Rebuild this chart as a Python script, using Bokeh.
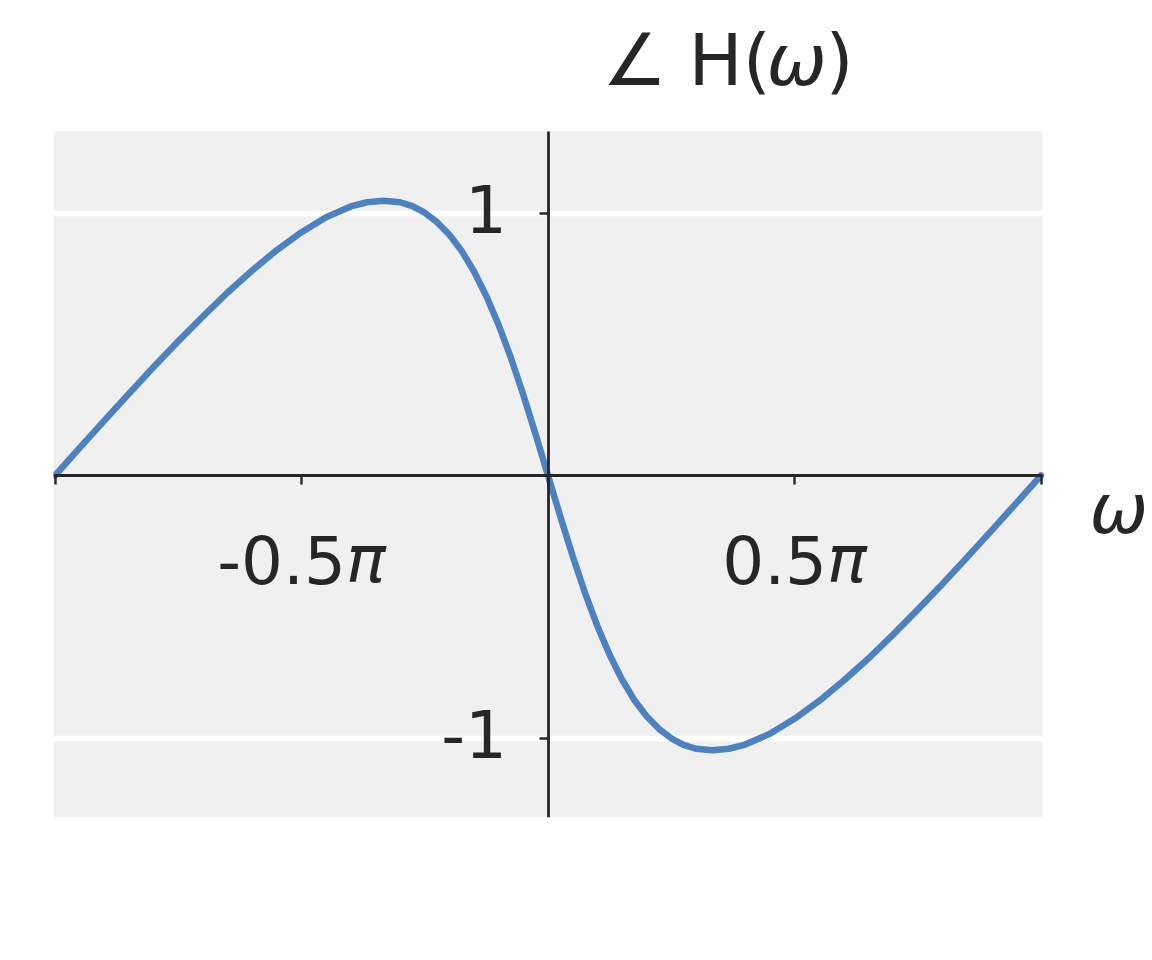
import math
from bokeh.plotting import figure
from bokeh.models import Range1d, FixedTicker, BoxAnnotation
from bokeh.core.properties import value
from bokeh.embed import file_html
from bokeh.resources import INLINE

# ---- data (omega in units of pi, phase in rad) ----
omega_pi = [-1.0, -0.95, -0.9, -0.85, -0.8, -0.75, -0.7, -0.65, -0.6, -0.55, -0.5,
            -0.45, -0.4, -0.367, -0.333, -0.3, -0.275, -0.25, -0.225, -0.2, -0.175,
            -0.15, -0.125, -0.1, -0.075, -0.05, -0.025, -0.0125, 0.0,
            0.0125, 0.025, 0.05, 0.075, 0.1, 0.125, 0.15, 0.175, 0.2, 0.225, 0.25,
            0.275, 0.3, 0.333, 0.367, 0.4, 0.45, 0.5, 0.55, 0.6, 0.65, 0.7, 0.75,
            0.8, 0.85, 0.9, 0.95, 1.0]
phase = [0.0, 0.105, 0.209, 0.312, 0.413, 0.511, 0.606, 0.697, 0.781, 0.859, 0.927,
         0.984, 1.025, 1.041, 1.047, 1.041, 1.026, 1.001, 0.965, 0.917, 0.855,
         0.777, 0.683, 0.573, 0.447, 0.307, 0.156, 0.078, 0.0,
         -0.078, -0.156, -0.307, -0.447, -0.573, -0.683, -0.777, -0.855, -0.917, -0.965, -1.001,
         -1.026, -1.041, -1.047, -1.041, -1.025, -0.984, -0.927, -0.859, -0.781, -0.697, -0.606, -0.511,
         -0.413, -0.312, -0.209, -0.105, 0.0]

xtick_pi = [-1.0, -0.5, 0.0, 0.5, 1.0]
xlabel_pi = [-0.5, 0.5]
xlabel_num = ["-0.5", "0.5"]
ytick_vals = [-1, 1]
ytick_text = ["-1", "1"]
title_parts = ["∠", "H(", "ω", ")"]
x_label = "ω"

PI = math.pi
omega = [w * PI for w in omega_pi]

TXT = "#262626"
AX = "#262626"
LINE = "#4e81bf"

# layout (pixels in the page)
PX = 493.0 / PI        # pixels per x data unit
PY = 262.5             # pixels per y data unit
X0, Y0 = 547.5, 475.0  # pixel position of the origin
def dx(px):
    return (px - X0) / PX
def dy(py):
    return (Y0 - py) / PY

W_FIG, H_FIG = 1152, 960
F_L, F_T, F_B = 53, 10, 817          # frame edges (right edge = figure edge)
BOX_L, BOX_R, BOX_T = 53, 1042, 131  # grey plot area

p = figure(width=W_FIG, height=H_FIG, output_backend="svg", toolbar_location=None,
           x_range=Range1d(dx(F_L), dx(W_FIG)), y_range=Range1d(dy(F_B), dy(F_T)),
           min_border_left=F_L, min_border_right=0, min_border_top=F_T,
           min_border_bottom=H_FIG - F_B, title=None)
p.background_fill_color = "white"
p.border_fill_color = "white"
p.outline_line_color = None

p.add_layout(BoxAnnotation(left=dx(BOX_L), right=dx(BOX_R), bottom=dy(F_B), top=dy(BOX_T),
                           fill_color="#f0f0f0", fill_alpha=1.0, line_color=None,
                           level="image"))

p.line(omega, phase, line_color=LINE, line_width=6.5, line_cap="round", line_join="round")

# axes through the origin
for ax in (p.xaxis[0], p.yaxis[0]):
    ax.fixed_location = 0
    ax.axis_line_color = AX
    ax.axis_line_width = 2.8
    ax.major_tick_line_color = AX
    ax.major_tick_line_width = 2.4
    ax.major_tick_in = 0
    ax.major_tick_out = 9
    ax.minor_tick_line_color = None
p.xaxis.bounds = (dx(BOX_L), dx(BOX_R))
p.yaxis.bounds = (dy(F_B), dy(BOX_T))
p.xaxis.ticker = FixedTicker(ticks=[v * PI for v in xtick_pi])
p.yaxis.ticker = FixedTicker(ticks=ytick_vals)
p.xaxis.major_label_overrides = {v * PI: "" for v in xtick_pi}
p.yaxis.major_label_overrides = {v: "" for v in ytick_vals}

p.xgrid.grid_line_color = None
p.ygrid.grid_line_color = "white"
p.ygrid.grid_line_width = 5.5

BASE_FIX = -26   # correction for the renderer's text baseline (px)

FS = 66
W = {"-": 0.361, "0": 0.636, ".": 0.318, "5": 0.636, "π": 0.602}
xl_x, xl_off = [], []
for v, t in zip(xlabel_pi, xlabel_num):
    wnum = sum(W[c] for c in t) * FS
    tot = wnum + W["π"] * FS
    xl_x.append(v * PI)
    xl_off.append(wnum - tot / 2.0)

common = dict(text_font=value("DejaVu Sans"), text_color=TXT, text_baseline="alphabetic")

p.text(x=xl_x, y=[0, 0], text=xlabel_num, x_offset=xl_off, y_offset=110 + BASE_FIX,
       text_font_size=value(f"{FS}px"), text_align="right", **common)
p.text(x=xl_x, y=[0, 0], text=["π", "π"], x_offset=xl_off, y_offset=110 + BASE_FIX,
       text_font_size=value(f"{FS}px"), text_font_style="italic", text_align="left", **common)

p.text(x=[0, 0], y=ytick_vals, text=ytick_text, x_offset=-41, y_offset=21 + BASE_FIX,
       text_font_size=value(f"{FS}px"), text_align="right", **common)

# title pieces
tpx = [602, 688, 766, 825]
tstyle = ["normal", "normal", "italic", "normal"]
for t, px, st in zip(title_parts, tpx, tstyle):
    p.text(x=[dx(px)], y=[dy(85)], text=[t], y_offset=BASE_FIX,
           text_font_size=value("72px"), text_font_style=st, text_align="left", **common)

p.text(x=[dx(1089)], y=[dy(534)], text=[x_label], y_offset=BASE_FIX,
       text_font_size=value("70px"), text_font_style="italic", text_align="left", **common)

open("out.html", "w").write(file_html(p, INLINE))
